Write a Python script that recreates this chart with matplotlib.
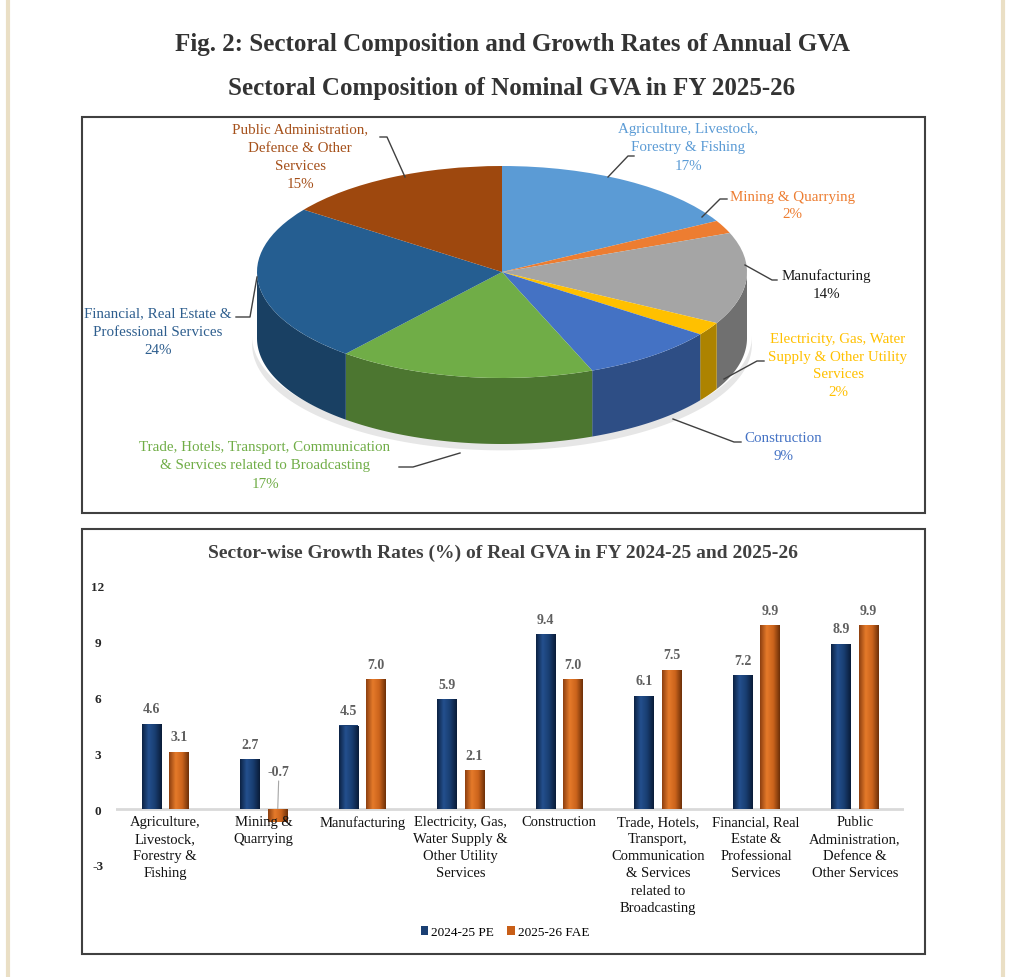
import numpy as np
import matplotlib.pyplot as plt
from matplotlib.colors import to_rgb, LinearSegmentedColormap
from matplotlib.lines import Line2D
from matplotlib.patches import Rectangle

plt.rcParams['font.family'] = ['Liberation Serif', 'DejaVu Serif']

W, H = 1024, 978

# pie data: nominal GVA shares, FY 2025-26
pie_sectors = ["Agriculture, Livestock,\nForestry & Fishing",
               "Mining & Quarrying",
               "Manufacturing",
               "Electricity, Gas, Water\nSupply & Other Utility\nServices",
               "Construction",
               "Trade, Hotels, Transport, Communication\n& Services related to Broadcasting",
               "Financial, Real Estate &\nProfessional Services",
               "Public Administration,\nDefence & Other\nServices"]
pie_shares = [17, 2, 14, 2, 9, 17, 24, 15]
pie_colors = ['#5B9BD5', '#ED7D31', '#A5A5A5', '#FFC000', '#4472C4', '#70AD47', '#255E91', '#9E480E']
pie_text_colors = ['#5B9BD5', '#ED7D31', '#1A1A1A', '#FFC000', '#4472C4', '#70AD47', '#2E5E8E', '#A5501A']

# bar data: real GVA growth rates (%)
bar_sectors = ["Agriculture,\nLivestock,\nForestry &\nFishing",
               "Mining &\nQuarrying",
               "Manufacturing",
               "Electricity, Gas,\nWater Supply &\nOther Utility\nServices",
               "Construction",
               "Trade, Hotels,\nTransport,\nCommunication\n& Services\nrelated to\nBroadcasting",
               "Financial, Real\nEstate &\nProfessional\nServices",
               "Public\nAdministration,\nDefence &\nOther Services"]
growth_2425 = [4.6, 2.7, 4.5, 5.9, 9.4, 6.1, 7.2, 8.9]
growth_2526 = [3.1, -0.7, 7.0, 2.1, 7.0, 7.5, 9.9, 9.9]
series_names = ['2024-25 PE', '2025-26 FAE']


def fx(x):
    return x / W


def fy(y):
    return 1 - y / H


def darker(c, f=0.68):
    return tuple(v * f for v in to_rgb(c))


fig = plt.figure(figsize=(W / 100, H / 100), dpi=100)
fig.patch.set_facecolor('white')

# page edges
for xl in (8, 1003):
    fig.add_artist(Line2D([fx(xl), fx(xl)], [0, 1], color='#EADFC5', lw=3, transform=fig.transFigure))

fig.text(0.5, fy(45), "Fig. 2: Sectoral Composition and Growth Rates of Annual GVA",
         ha='center', va='center', fontsize=18, weight='bold', color='#333333')
fig.text(0.5, fy(88), "Sectoral Composition of Nominal GVA in FY 2025-26",
         ha='center', va='center', fontsize=18, weight='bold', color='#333333')

# ---------------- 3D-looking pie ----------------
box1 = (82, 118, 925, 514)
ax1 = fig.add_axes([fx(box1[0]), fy(box1[3]), fx(box1[2] - box1[0]), (box1[3] - box1[1]) / H])
CX, CY, RX, RY, DEPTH = 502, 273, 245, 106, 66
D = DEPTH / RY


def px(x, y):
    return (x - CX) / RX, (CY - y) / RY


wedges, _ = ax1.pie(pie_shares, colors=pie_colors, startangle=90, counterclock=False,
                    radius=1, wedgeprops=dict(linewidth=0, zorder=3))
ax1.set_aspect('auto')
ax1.set_xlim(px(box1[0], 0)[0], px(box1[2], 0)[0])
ax1.set_ylim(px(0, box1[3])[1], px(0, box1[1])[1])
ax1.axis('off')

# soft shadow
sh = np.radians(np.linspace(180, 360, 100))
ax1.fill(np.r_[1.02 * np.cos(sh), 1.02 * np.cos(sh[::-1])],
         np.r_[np.sin(sh) - D - 0.06, np.sin(sh[::-1]) - D + 0.02], color='#E6E6E6', lw=0, zorder=1)

# visible side walls (front half)
for w, c in zip(wedges, pie_colors):
    a, b = np.radians(w.theta1), np.radians(w.theta2)
    for k in (-1, 0, 1):
        lo, hi = max(a, (2 * k - 1) * np.pi), min(b, 2 * k * np.pi)
        if hi <= lo:
            continue
        t = np.linspace(lo, hi, 80)
        xs, ys = np.cos(t), np.sin(t)
        ax1.fill(np.r_[xs, xs[::-1]], np.r_[ys, ys[::-1] - D], color=darker(c), lw=0, zorder=2)

# labels with leader lines (pixel positions)
label_pos = [(688, 148), (792, 206), (826, 285), (838, 366), (783, 447), (265, 466), (158, 332), (300, 157)]
leaders = [[(634, 157), (628, 157), (608, 178)],
           [(702, 218), (720, 200), (727, 200)],
           [(745, 266), (772, 281), (777, 281)],
           [(724, 380), (757, 362), (764, 362)],
           [(673, 420), (734, 443), (741, 443)],
           [(460, 454), (413, 468), (399, 468)],
           [(257, 278), (250, 318), (236, 318)],
           [(380, 138), (387, 138), (405, 178)]]
for name, share, col, pos, ld in zip(pie_sectors, pie_shares, pie_text_colors, label_pos, leaders):
    lx, ly = px(*pos)
    ax1.text(lx, ly, f"{name}\n{share}%", ha='center', va='center', multialignment='center',
             fontsize=10.8, color=col, linespacing=1.5, zorder=5)
    pts = [px(*p) for p in ld]
    ax1.plot([p[0] for p in pts], [p[1] for p in pts], color='#404040', lw=1, zorder=4)

fig.add_artist(Rectangle((fx(box1[0]), fy(box1[3])), fx(box1[2] - box1[0]), (box1[3] - box1[1]) / H,
                         transform=fig.transFigure, fill=False, ec='#404040', lw=1.5))

# ---------------- bar chart ----------------
box2 = (82, 530, 925, 955)
fig.add_artist(Rectangle((fx(box2[0]), fy(box2[3])), fx(box2[2] - box2[0]), (box2[3] - box2[1]) / H,
                         transform=fig.transFigure, fill=False, ec='#404040', lw=1.5))
fig.text(fx(503), fy(553), "Sector-wise Growth Rates (%) of Real GVA in FY 2024-25 and 2025-26",
         ha='center', va='center', fontsize=14, weight='bold', color='#404040')

ax2 = fig.add_axes([fx(116), fy(866), fx(904 - 116), (866 - 587) / H])
x = np.arange(len(bar_sectors))
bw, off = 0.2, 0.14
navy, orange = '#1A3F73', '#C85E17'
b1 = ax2.bar(x - off, growth_2425, bw, color=navy, label=series_names[0], zorder=3)
b2 = ax2.bar(x + off, growth_2526, bw, color=orange, label=series_names[1], zorder=3)

cm_navy = LinearSegmentedColormap.from_list('n', ['#0C2244', '#24508E', '#183D70', '#0A1C38'])
cm_orng = LinearSegmentedColormap.from_list('o', ['#8E4010', '#E57A2A', '#CC641C', '#6E3008'])
grad = np.linspace(0, 1, 60).reshape(1, -1)
for bars, cm in ((b1, cm_navy), (b2, cm_orng)):
    for r in bars:
        x0, y0, w, h = r.get_x(), r.get_y(), r.get_width(), r.get_height()
        im = ax2.imshow(grad, extent=[x0, x0 + w, min(y0, y0 + h), max(y0, y0 + h)],
                        aspect='auto', cmap=cm, zorder=4)
        im.set_clip_path(r)

for bars, vals in ((b1, growth_2425), (b2, growth_2526)):
    for r, v in zip(bars, vals):
        cx = r.get_x() + r.get_width() / 2
        if v >= 0:
            ax2.annotate(f"{v:.1f}", (cx, v), xytext=(0, 6), textcoords='offset points',
                         ha='center', va='bottom', fontsize=10, weight='bold', color='#5F5F5F')
        else:
            ax2.annotate(f"{v:.1f}", (cx, v / 2), xytext=(1, 27), textcoords='offset points',
                         ha='center', va='bottom', fontsize=10, weight='bold', color='#5F5F5F',
                         arrowprops=dict(arrowstyle='-', color='#A6A6A6', lw=0.8, shrinkA=0, shrinkB=0))

ax2.axhline(0, color='#D9D9D9', lw=2, zorder=2)
ax2.set_xlim(-0.5, len(bar_sectors) - 0.5)
ax2.set_ylim(-3, 12)
ax2.set_yticks([-3, 0, 3, 6, 9, 12])
ax2.set_yticklabels(['-3', '0', '3', '6', '9', '12'], fontsize=9.5, weight='bold', color='#262626', ha='center')
ax2.tick_params(axis='y', length=0, pad=13)
ax2.set_xticks([])
# category labels hang just under the zero line
for xi, name in zip(x, bar_sectors):
    ax2.annotate(name, (xi, 0), xytext=(0, -4), textcoords='offset points', ha='center', va='top',
                 fontsize=10.5, color='#111111', linespacing=1.42, zorder=6, annotation_clip=False)
for s in ax2.spines.values():
    s.set_visible(False)
ax2.patch.set_alpha(0)

fig.legend(handles=[b1, b2], labels=series_names, loc='center', bbox_to_anchor=(fx(505), fy(933)),
           ncol=2, frameon=False, prop=dict(size=9.5), handlelength=0.55, handleheight=0.75,
           handletextpad=0.25, columnspacing=1.0)

fig.savefig('out.png', dpi=100, facecolor='white')
